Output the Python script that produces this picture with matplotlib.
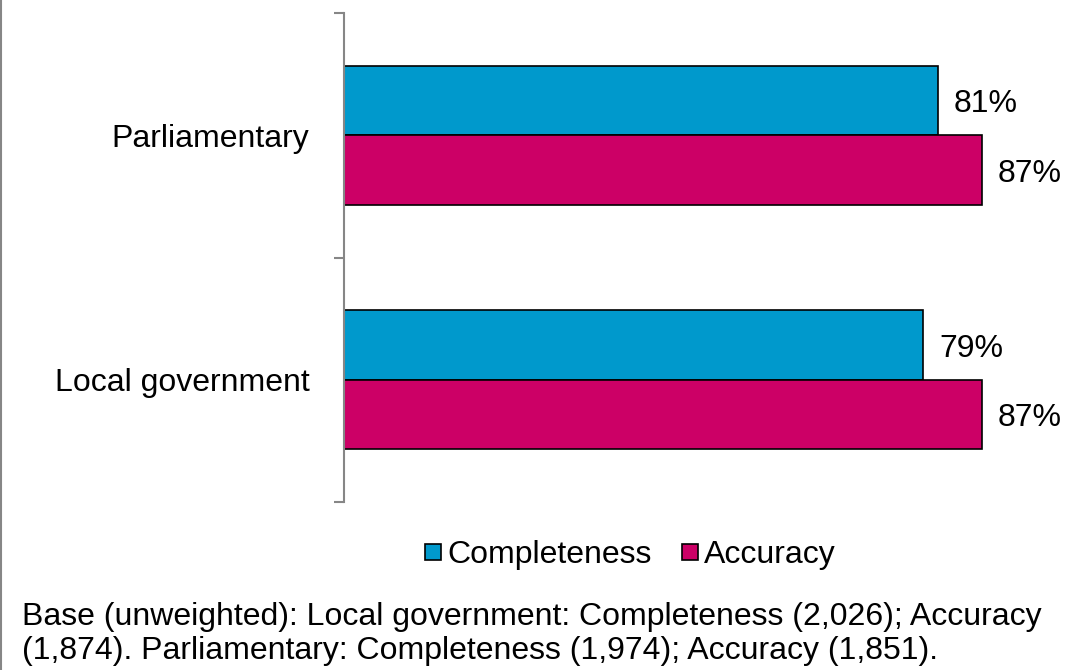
import numpy as np
import matplotlib.pyplot as plt
from matplotlib.lines import Line2D

plt.rcParams['font.family'] = ['Liberation Sans', 'DejaVu Sans']

categories = ['Local government', 'Parliamentary']
completeness = [79, 81]
accuracy = [87, 87]
series_names = ['Completeness', 'Accuracy']
colors = ['#0099CC', '#CC0066']
footnote = ('Base (unweighted): Local government: Completeness (2,026); Accuracy\n'
            '(1,874). Parliamentary: Completeness (1,974); Accuracy (1,851).')

W, H = 1067, 670
fs = 23
fig = plt.figure(figsize=(W / 100, H / 100), dpi=100)
ax = fig.add_axes([344 / W, 1 - 502 / H, 1 - 344 / W, (502 - 13) / H])

y = np.arange(len(categories))
h = 0.285
ax.barh(y + h / 2, completeness, height=h, color=colors[0], edgecolor='black',
        linewidth=1.2, label=series_names[0])
ax.barh(y - h / 2, accuracy, height=h, color=colors[1], edgecolor='black',
        linewidth=1.2, label=series_names[1])

for yi, v in zip(y + h / 2, completeness):
    ax.text(v + 2.2, yi - 0.015, f'{v}%', va='center', ha='left', fontsize=fs)
for yi, v in zip(y - h / 2, accuracy):
    ax.text(v + 2.2, yi - 0.015, f'{v}%', va='center', ha='left', fontsize=fs)

ax.set_xlim(0, (W - 344) / 7.33)
ax.set_ylim(-0.5, 1.5)
ax.set_yticks(y)
ax.set_yticklabels(categories, fontsize=fs)
ax.set_yticks([-0.5, 0.5, 1.5], minor=True)
ax.tick_params(axis='y', which='major', length=0, pad=25)
ax.tick_params(axis='y', which='minor', length=7, width=1.5, color='#868686',
               direction='out')
ax.set_xticks([])
for s in ['top', 'right', 'bottom']:
    ax.spines[s].set_visible(False)
ax.spines['left'].set_color('#868686')
ax.spines['left'].set_linewidth(1.5)

handles = [Line2D([], [], marker='s', linestyle='none', markersize=11,
                  markerfacecolor=c, markeredgecolor='black', markeredgewidth=1.2)
           for c in colors]
fig.legend(handles, series_names, loc='center', bbox_to_anchor=(627 / W, 1 - 555 / H),
           ncol=2, frameon=False, fontsize=fs, handletextpad=0.0,
           columnspacing=0.75, handlelength=0.9)

fig.text(22 / W, 1 - 634 / H, footnote, fontsize=fs, va='center', ha='left',
         linespacing=1.2)

fig.add_artist(Line2D([1 / W, 1 / W], [0, 1], color='#868686', linewidth=1.5,
                      transform=fig.transFigure))

fig.savefig('out.png', dpi=100, facecolor='white')
